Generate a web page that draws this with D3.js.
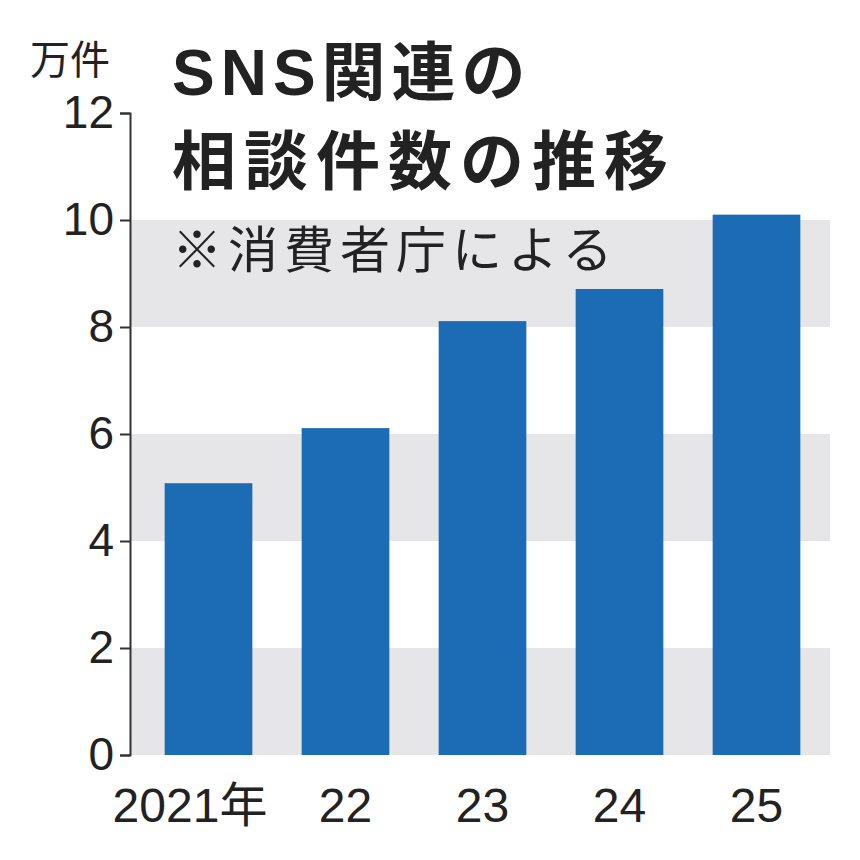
<!DOCTYPE html>
<html><head><meta charset="utf-8">
<script src="https://cdn.jsdelivr.net/npm/d3@7"></script>
<style>body{margin:0;background:#fff}</style>
</head><body>
<svg id="c" width="860" height="860"></svg>
<script>
const categories = ["2021年","22","23","24","25"];
const values = [5.08, 6.11, 8.11, 8.71, 10.1];
const yTicks = [0,2,4,6,8,10,12];
const bands = [[0,2],[4,6],[8,10]];

const svg = d3.select("#c");
const font = "'Liberation Sans','Noto Sans CJK JP',sans-serif";
const y = d3.scaleLinear().domain([0,12]).range([755,113]);
const x = d3.scaleBand().domain(categories).range([140,825]).paddingInner(0.36).paddingOuter(0.18);

svg.selectAll("rect.band").data(bands).enter().append("rect")
  .attr("x",130).attr("width",700)
  .attr("y",d=>y(d[1])).attr("height",d=>y(d[0])-y(d[1]))
  .attr("fill","#e6e6e8");

svg.selectAll("rect.bar").data(values).enter().append("rect")
  .attr("x",(d,i)=>x(categories[i])).attr("width",x.bandwidth())
  .attr("y",d=>y(d)).attr("height",d=>y(0)-y(d))
  .attr("fill","#1b6cb5");

const ax = svg.append("g").attr("transform","translate(130,0)")
  .call(d3.axisLeft(y).tickValues(yTicks).tickSize(10).tickPadding(6));
ax.select(".domain").attr("stroke","#333").attr("stroke-width",2);
ax.selectAll(".tick line").attr("stroke","#333").attr("stroke-width",2);
ax.selectAll(".tick text").attr("font-size",46).attr("font-family",font).attr("fill","#222");

svg.selectAll("text.xl").data(categories).enter().append("text")
  .attr("x",(d,i)=> i===0 ? 190 : x(d)+x.bandwidth()/2)
  .attr("y",822).attr("text-anchor","middle")
  .attr("font-size",48).attr("font-family",font).attr("fill","#222").text(d=>d);

svg.append("text").attr("x",30).attr("y",74).attr("font-size",40).attr("font-family",font).attr("fill","#222").text("万件");
svg.append("text").attr("x",172).attr("y",95).attr("font-size",64).attr("letter-spacing",6).attr("font-weight","bold").attr("font-family",font).attr("fill","#222").text("SNS関連の");
svg.append("text").attr("x",172).attr("y",184).attr("font-size",64).attr("letter-spacing",8).attr("font-weight","bold").attr("font-family",font).attr("fill","#222").text("相談件数の推移");
svg.append("text").attr("x",172).attr("y",268).attr("font-size",50).attr("letter-spacing",6).attr("font-family",font).attr("fill","#222").text("※消費者庁による");
</script>
</body></html>
